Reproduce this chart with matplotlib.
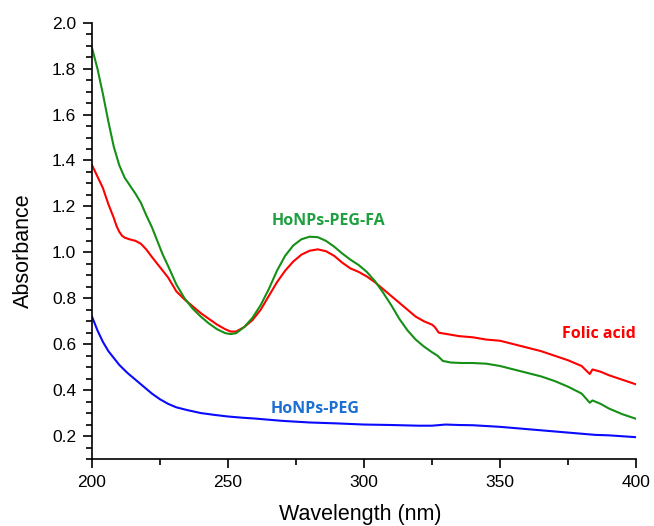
import matplotlib
matplotlib.use("Agg")
import matplotlib.pyplot as plt
from matplotlib.ticker import MultipleLocator, FormatStrFormatter

# HoNPs-PEG-FA (green)
wl_fa = [200, 202, 204, 206, 208, 210, 212, 214, 216, 218, 220, 222, 224, 226, 228, 231, 234, 237,
         240, 243, 246, 249, 251, 253, 256, 259, 262, 265, 268, 271, 274, 277, 280, 283, 286, 289,
         292, 295, 298, 301, 304, 307, 310, 313, 316, 319, 322, 325, 327, 329, 332, 336, 340, 345,
         350, 355, 360, 365, 370, 375, 380, 383, 384, 387, 390, 395, 400]
abs_fa = [1.89, 1.80, 1.69, 1.57, 1.46, 1.38, 1.325, 1.29, 1.255, 1.215, 1.16, 1.11, 1.05, 0.99,
          0.94, 0.86, 0.80, 0.755, 0.72, 0.69, 0.665, 0.648, 0.644, 0.648, 0.675, 0.715, 0.77,
          0.84, 0.92, 0.985, 1.03, 1.057, 1.068, 1.066, 1.05, 1.025, 0.995, 0.968, 0.945, 0.915,
          0.875, 0.825, 0.77, 0.71, 0.66, 0.62, 0.59, 0.565, 0.55, 0.527, 0.52, 0.518, 0.518,
          0.515, 0.505, 0.49, 0.475, 0.46, 0.44, 0.415, 0.385, 0.345, 0.355, 0.34, 0.32, 0.295,
          0.275]

# Folic acid (red)
wl_folic = [200, 202, 204, 206, 208, 209, 210, 211, 212, 214, 216, 218, 220, 222, 224, 226, 228, 231,
            234, 237, 240, 243, 246, 249, 251, 253, 256, 259, 262, 265, 268, 271, 274, 277, 280,
            283, 286, 289, 292, 295, 298, 301, 304, 307, 310, 313, 316, 319, 322, 325, 326, 327.5,
            330, 335, 340, 345, 350, 355, 360, 365, 370, 375, 380, 383, 384, 387, 390, 395, 400]
abs_folic = [1.38, 1.33, 1.28, 1.21, 1.15, 1.115, 1.09, 1.073, 1.064, 1.056, 1.05, 1.037, 1.012,
             0.98, 0.95, 0.92, 0.89, 0.83, 0.795, 0.765, 0.735, 0.71, 0.685, 0.665, 0.655, 0.655,
             0.675, 0.705, 0.75, 0.81, 0.87, 0.92, 0.96, 0.99, 1.007, 1.013, 1.005, 0.985, 0.955,
             0.93, 0.915, 0.895, 0.87, 0.84, 0.81, 0.78, 0.75, 0.72, 0.70, 0.685, 0.675, 0.65,
             0.645, 0.635, 0.63, 0.62, 0.615, 0.60, 0.585, 0.57, 0.55, 0.53, 0.505, 0.47, 0.49,
             0.48, 0.465, 0.445, 0.425]

# HoNPs-PEG (blue)
wl_peg = [200, 202, 204, 206, 208, 210, 213, 216, 219, 222, 225, 228, 231, 235, 240, 245, 250, 255,
          260, 270, 280, 290, 300, 310, 320, 325, 330, 335, 340, 350, 360, 370, 380, 385, 390, 400]
abs_peg = [0.72, 0.66, 0.61, 0.57, 0.54, 0.51, 0.475, 0.445, 0.415, 0.385, 0.36, 0.34, 0.325,
           0.313, 0.30, 0.292, 0.285, 0.28, 0.276, 0.266, 0.259, 0.255, 0.25, 0.248, 0.245, 0.245,
           0.25, 0.248, 0.247, 0.24, 0.23, 0.22, 0.21, 0.205, 0.203, 0.195]

plt.rcParams['font.family'] = ['Liberation Sans', 'DejaVu Sans']

fig = plt.figure(figsize=(6.54, 5.26), dpi=100)
ax = fig.add_axes([0.1407, 0.1274, 0.8318, 0.8294])

ax.plot(wl_folic, abs_folic, color='#ff0000', lw=1.5)
ax.plot(wl_fa, abs_fa, color='#168f16', lw=1.5)
ax.plot(wl_peg, abs_peg, color='#0a0aff', lw=1.5)

lab_font = ['Open Sans', 'DejaVu Sans']
ax.text(287, 1.135, 'HoNPs-PEG-FA', color='#1fa040', fontsize=11.5, fontweight='bold',
        ha='center', va='center', family=lab_font)
ax.text(386.5, 0.645, 'Folic acid', color='#ff0000', fontsize=11.5, fontweight='bold',
        ha='center', va='center', family=lab_font)
ax.text(282, 0.318, 'HoNPs-PEG', color='#1a6fd0', fontsize=11.5, fontweight='bold',
        ha='center', va='center', family=lab_font)

ax.set_xlim(200, 400)
ax.set_ylim(0.1, 2.0)
ax.xaxis.set_major_locator(MultipleLocator(50))
ax.xaxis.set_minor_locator(MultipleLocator(25))
ax.yaxis.set_major_locator(MultipleLocator(0.2))
ax.yaxis.set_minor_locator(MultipleLocator(0.05))
ax.set_yticks([0.2, 0.4, 0.6, 0.8, 1.0, 1.2, 1.4, 1.6, 1.8, 2.0])
ax.yaxis.set_major_formatter(FormatStrFormatter('%.1f'))

ax.spines['top'].set_visible(False)
ax.spines['right'].set_visible(False)
for s in ('left', 'bottom'):
    ax.spines[s].set_linewidth(1.2)
ax.tick_params(which='major', direction='out', length=6.3, width=1.2, labelsize=12.5, pad=5)
ax.tick_params(which='minor', direction='out', length=4, width=1.2)

ax.set_xlabel('Wavelength (nm)', fontsize=15.5)
ax.set_ylabel('Absorbance', fontsize=15.5)
ax.xaxis.set_label_coords(0.493, -0.104)
ax.yaxis.set_label_coords(-0.106, 0.477)

fig.savefig('out.png', dpi=100)
